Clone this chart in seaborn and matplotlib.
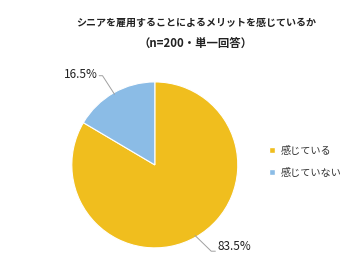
import numpy as np
import matplotlib
matplotlib.use("Agg")
import matplotlib.pyplot as plt
import seaborn as sns
from matplotlib.lines import Line2D

sns.set_style("white")
plt.rcParams['font.family'] = ['Noto Sans CJK JP', 'DejaVu Sans']

categories = ["感じている", "感じていない"]
values = [83.5, 16.5]
colors = ["#F0BE1E", "#8BBCE6"]
title_line1 = "シニアを雇用することによるメリットを感じているか"
title_line2 = "（n=200・単一回答）"

fig = plt.figure(figsize=(3.6, 2.63), dpi=100)
fig.patch.set_facecolor("white")
ax = fig.add_axes([0.1995, 0.0575, 0.461, 0.631])
wedges, _ = ax.pie(values, colors=colors, startangle=90, counterclock=False,
                   wedgeprops=dict(linewidth=0.8, edgecolor="white"))
ax.set_aspect("equal")
ax.set_xlim(-1, 1)
ax.set_ylim(-1, 1)

# leader lines and labels
for w, v in zip(wedges, values):
    ang = np.deg2rad((w.theta1 + w.theta2) / 2)
    x, y = np.cos(ang), np.sin(ang)
    lab = f"{v:.1f}%"
    if x < 0:
        ax.plot([x * 0.98, -0.63, -0.67], [y * 0.98, 1.075, 1.075], color="#A0A0A0", lw=0.7,
                clip_on=False, solid_joinstyle="miter")
        ax.text(-0.69, 1.09, lab, ha="right", va="center", fontsize=8.5, color="#222222")
    else:
        ax.plot([x * 0.98, 0.68, 0.73], [y * 0.98, -1.04, -1.04], color="#A0A0A0", lw=0.7,
                clip_on=False)
        ax.text(0.75, -0.98, lab, ha="left", va="center", fontsize=8.5, color="#222222")

fig.text(0.545, 1 - 23 / 263, title_line1, ha="center", va="center", fontsize=7.2,
         fontweight="bold", color="#222222")
fig.text(0.543, 1 - 43 / 263, title_line2, ha="center", va="center", fontsize=8.2,
         fontweight="bold", color="#222222")

handles = [Line2D([0], [0], marker="s", color="w", markerfacecolor=c, markersize=4.5, lw=0)
           for c in colors]
fig.legend(handles, categories, loc="center left", bbox_to_anchor=(0.72, 0.385),
           frameon=False, fontsize=7.3, handlelength=0.8, handletextpad=0.4,
           labelspacing=1.15, labelcolor="#333333")

fig.savefig("out.png", dpi=100, facecolor="white")
